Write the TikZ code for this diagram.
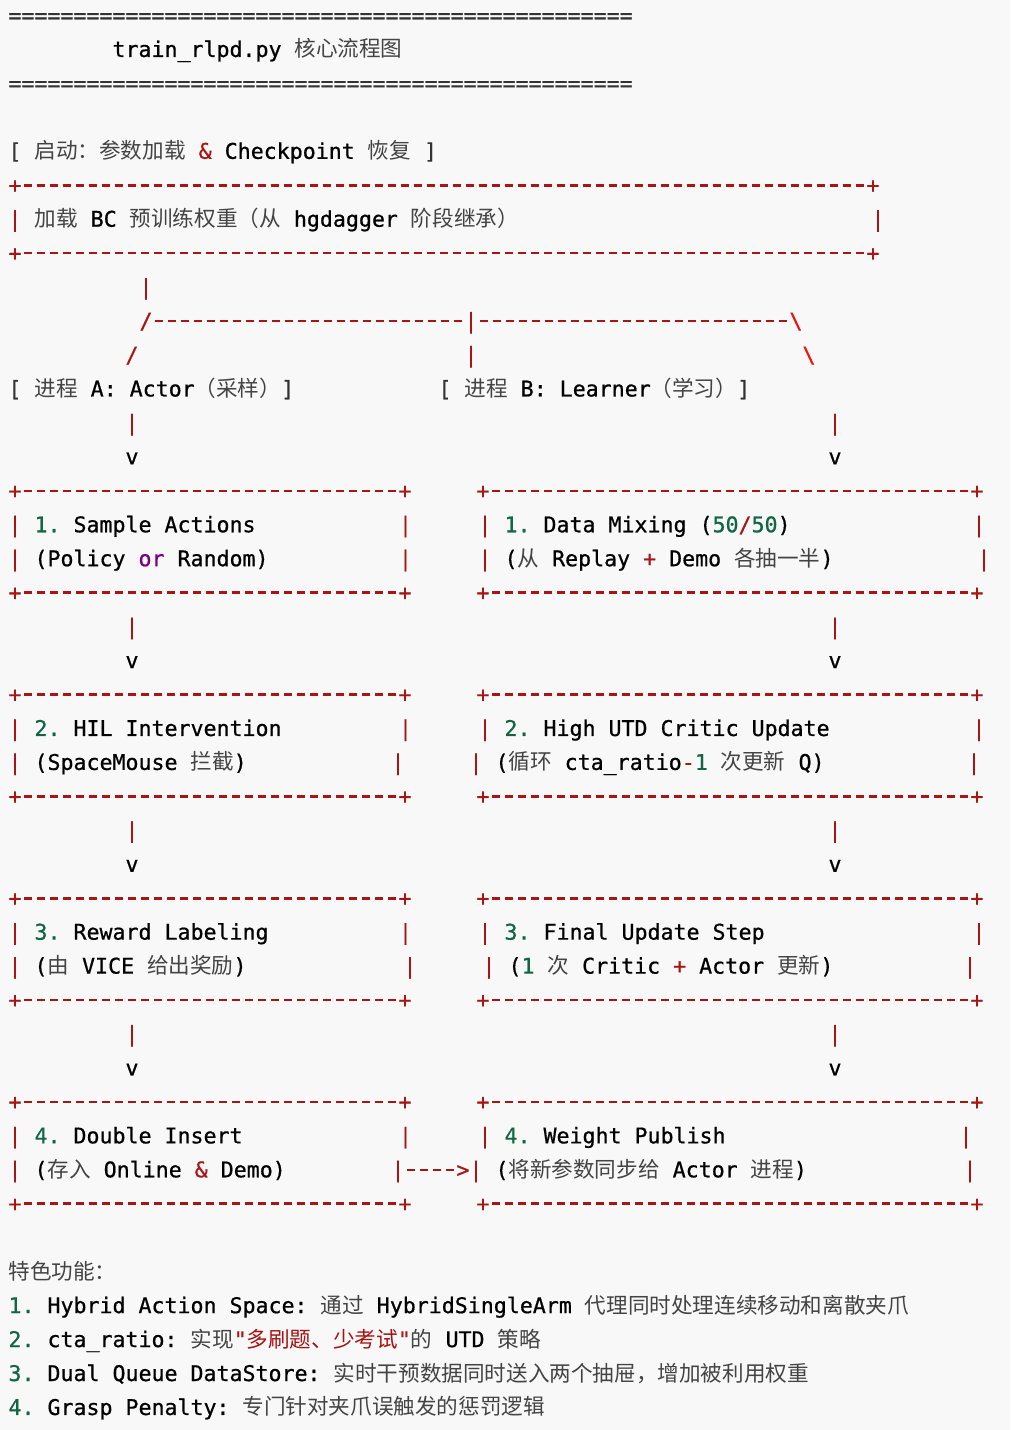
\documentclass[tikz,border=0pt]{standalone}
\usepackage{fontspec}
\setmonofont{DejaVu Sans Mono}[FakeBold=0.7]
\newfontfamily\cjkf{Noto Sans CJK SC}
\usepackage{xcolor}
\definecolor{bg}{HTML}{F8F8F8}
\definecolor{opred}{HTML}{A81515}
\definecolor{errred}{HTML}{F01010}
\definecolor{numgreen}{HTML}{116644}
\definecolor{kwpurple}{HTML}{770088}
\definecolor{brgray}{HTML}{333333}
\definecolor{cjkgray}{HTML}{444444}
\definecolor{strred}{HTML}{AA1111}
\ExplSyntaxOn
\NewDocumentCommand\rep{mm}{\prg_replicate:nn{#1}{#2}}
\ExplSyntaxOff
\newcommand\mono{\ttfamily\fontsize{21.6}{26}\selectfont}
\newcommand\zh[1]{{\cjkf\color{cjkgray}#1}}
\newcommand\zhs[1]{{\cjkf\color{strred}#1}}
\newcommand\op[1]{\textcolor{opred}{#1}}
\newcommand\err[1]{\textcolor{errred}{#1}}
\newcommand\num[1]{\textcolor{numgreen}{#1}}
\newcommand\kw[1]{\textcolor{kwpurple}{#1}}
\newcommand\br[1]{\textcolor{brgray}{#1}}
\newcommand\onedash{\makebox[13pt]{\rule[6.2pt]{8pt}{2.6pt}}}
\newcommand\dsh[1]{\rep{#1}{\onedash}}
\newcommand\rowb[1]{23+33.95*#1}
\tikzset{
  t/.style={anchor=base west,inner sep=0pt,outer sep=0pt,font=\mono,text=black},
  g/.style={anchor=base,inner sep=0pt,outer sep=0pt,font=\mono,text=black}
}
\begin{document}
\begin{tikzpicture}[x=1pt,y=-1pt]
\fill[bg] (0,0) rectangle (1010,1430);
\useasboundingbox (0,0) rectangle (1010,1430);
% header
\node[t] (eqa) at (8.5,\rowb{0}) {\br{\rep{48}{=}}};
\node[t] (title) at (112.5,\rowb{1}) {train\_rlpd.py \zh{核心流程图}};
\node[t] (eqb) at (8.5,\rowb{2}) {\br{\rep{48}{=}}};
% start
\node[t] (start) at (8.5,\rowb{4}) {\br{[} \zh{启动：参数加载} \op{\&} Checkpoint \zh{恢复} \br{]}};
\node[t] (bcTop) at (8.5,\rowb{5}) {\op{+\dsh{65}+}};
\node[t] (bcMid) at (8.5,\rowb{6}) {\op{|} \zh{加载} BC \zh{预训练权重（从} hgdagger \zh{阶段继承）}};
\node[g] (bcR) at (878,\rowb{6}) {\op{|}};
\node[t] (bcBot) at (8.5,\rowb{7}) {\op{+\dsh{65}+}};
% split
\node[g] (splitV) at (146,\rowb{8}) {\op{|}};
\node[t] (split) at (139.5,\rowb{9}) {\op{/\dsh{24}|\dsh{24}}\err{\textbackslash}};
\node[g] (slA) at (132,\rowb{10}) {\op{/}};
\node[g] (slM) at (471,\rowb{10}) {\op{|}};
\node[g] (slB) at (809,\rowb{10}) {\err{\textbackslash}};
\node[t] (procA) at (8.5,\rowb{11}) {\br{[} \zh{进程} A: Actor\zh{（采样）}\br{]}};
\node[t] (procB) at (438.5,\rowb{11}) {\br{[} \zh{进程} B: Learner\zh{（学习）}\br{]}};
\node[g] (pa1) at (132,\rowb{12}) {\op{|}};
\node[g] (pb1) at (835,\rowb{12}) {\op{|}};
\node[g] (va1) at (132,\rowb{13}) {v};
\node[g] (vb1) at (835,\rowb{13}) {v};
% box row 1
\node[t] (a1t) at (8.5,\rowb{14}) {\op{+\dsh{29}+}};
\node[t] (b1t) at (476.5,\rowb{14}) {\op{+\dsh{37}+}};
\node[t] (a1a) at (8.5,\rowb{15}) {\op{|} \num{1.} Sample Actions};
\node[g] (a1ar) at (405.5,\rowb{15}) {\op{|}};
\node[t] (b1a) at (478.5,\rowb{15}) {\op{|} \num{1.} Data Mixing (\num{50}\op{/}\num{50})};
\node[g] (b1ar) at (979,\rowb{15}) {\op{|}};
\node[t] (a1b) at (8.5,\rowb{16}) {\op{|} (Policy \kw{or} Random)};
\node[g] (a1br) at (405.5,\rowb{16}) {\op{|}};
\node[t] (b1b) at (478.5,\rowb{16}) {\op{|} (\zh{从} Replay \op{+} Demo \zh{各抽一半})};
\node[g] (b1br) at (984,\rowb{16}) {\op{|}};
\node[t] (a1u) at (8.5,\rowb{17}) {\op{+\dsh{29}+}};
\node[t] (b1u) at (476.5,\rowb{17}) {\op{+\dsh{37}+}};
\node[g] (pa2) at (132,\rowb{18}) {\op{|}};
\node[g] (pb2) at (835,\rowb{18}) {\op{|}};
\node[g] (va2) at (132,\rowb{19}) {v};
\node[g] (vb2) at (835,\rowb{19}) {v};
% box row 2
\node[t] (a2t) at (8.5,\rowb{20}) {\op{+\dsh{29}+}};
\node[t] (b2t) at (476.5,\rowb{20}) {\op{+\dsh{37}+}};
\node[t] (a2a) at (8.5,\rowb{21}) {\op{|} \num{2.} HIL Intervention};
\node[g] (a2ar) at (405.5,\rowb{21}) {\op{|}};
\node[t] (b2a) at (478.5,\rowb{21}) {\op{|} \num{2.} High UTD Critic Update};
\node[g] (b2ar) at (979,\rowb{21}) {\op{|}};
\node[t] (a2b) at (8.5,\rowb{22}) {\op{|} (SpaceMouse \zh{拦截})};
\node[g] (a2br) at (398,\rowb{22}) {\op{|}};
\node[t] (b2b) at (469.5,\rowb{22}) {\op{|} (\zh{循环} cta\_ratio\op{-}\num{1} \zh{次更新} Q)};
\node[g] (b2br) at (974,\rowb{22}) {\op{|}};
\node[t] (a2u) at (8.5,\rowb{23}) {\op{+\dsh{29}+}};
\node[t] (b2u) at (476.5,\rowb{23}) {\op{+\dsh{37}+}};
\node[g] (pa3) at (132,\rowb{24}) {\op{|}};
\node[g] (pb3) at (835,\rowb{24}) {\op{|}};
\node[g] (va3) at (132,\rowb{25}) {v};
\node[g] (vb3) at (835,\rowb{25}) {v};
% box row 3
\node[t] (a3t) at (8.5,\rowb{26}) {\op{+\dsh{29}+}};
\node[t] (b3t) at (476.5,\rowb{26}) {\op{+\dsh{37}+}};
\node[t] (a3a) at (8.5,\rowb{27}) {\op{|} \num{3.} Reward Labeling};
\node[g] (a3ar) at (405.5,\rowb{27}) {\op{|}};
\node[t] (b3a) at (478.5,\rowb{27}) {\op{|} \num{3.} Final Update Step};
\node[g] (b3ar) at (979,\rowb{27}) {\op{|}};
\node[t] (a3b) at (8.5,\rowb{28}) {\op{|} (\zh{由} VICE \zh{给出奖励})};
\node[g] (a3br) at (410,\rowb{28}) {\op{|}};
\node[t] (b3b) at (482.5,\rowb{28}) {\op{|} (\num{1} \zh{次} Critic \op{+} Actor \zh{更新})};
\node[g] (b3br) at (970,\rowb{28}) {\op{|}};
\node[t] (a3u) at (8.5,\rowb{29}) {\op{+\dsh{29}+}};
\node[t] (b3u) at (476.5,\rowb{29}) {\op{+\dsh{37}+}};
\node[g] (pa4) at (132,\rowb{30}) {\op{|}};
\node[g] (pb4) at (835,\rowb{30}) {\op{|}};
\node[g] (va4) at (132,\rowb{31}) {v};
\node[g] (vb4) at (835,\rowb{31}) {v};
% box row 4
\node[t] (a4t) at (8.5,\rowb{32}) {\op{+\dsh{29}+}};
\node[t] (b4t) at (476.5,\rowb{32}) {\op{+\dsh{37}+}};
\node[t] (a4a) at (8.5,\rowb{33}) {\op{|} \num{4.} Double Insert};
\node[g] (a4ar) at (405.5,\rowb{33}) {\op{|}};
\node[t] (b4a) at (478.5,\rowb{33}) {\op{|} \num{4.} Weight Publish};
\node[g] (b4ar) at (966,\rowb{33}) {\op{|}};
\node[t] (a4b) at (8.5,\rowb{34}) {\op{|} (\zh{存入} Online \op{\&} Demo)};
\node[t] (link) at (391.5,\rowb{34}) {\op{|\dsh{4}>|} (\zh{将新参数同步给} Actor \zh{进程})};
\node[g] (b4br) at (970,\rowb{34}) {\op{|}};
\node[t] (a4u) at (8.5,\rowb{35}) {\op{+\dsh{29}+}};
\node[t] (b4u) at (476.5,\rowb{35}) {\op{+\dsh{37}+}};
% features
\node[t] (feat) at (8.5,\rowb{37}) {\zh{特色功能：}};
\node[t] (f1) at (8.5,\rowb{38}) {\num{1.} Hybrid Action Space: \zh{通过} HybridSingleArm \zh{代理同时处理连续移动和离散夹爪}};
\node[t] (f2) at (8.5,\rowb{39}) {\num{2.} cta\_ratio: \zh{实现}\textcolor{strred}{"}\zhs{多刷题、少考试}\textcolor{strred}{"}\zh{的} UTD \zh{策略}};
\node[t] (f3) at (8.5,\rowb{40}) {\num{3.} Dual Queue DataStore: \zh{实时干预数据同时送入两个抽屉，增加被利用权重}};
\node[t] (f4) at (8.5,\rowb{41}) {\num{4.} Grasp Penalty: \zh{专门针对夹爪误触发的惩罚逻辑}};
\end{tikzpicture}
\end{document}
